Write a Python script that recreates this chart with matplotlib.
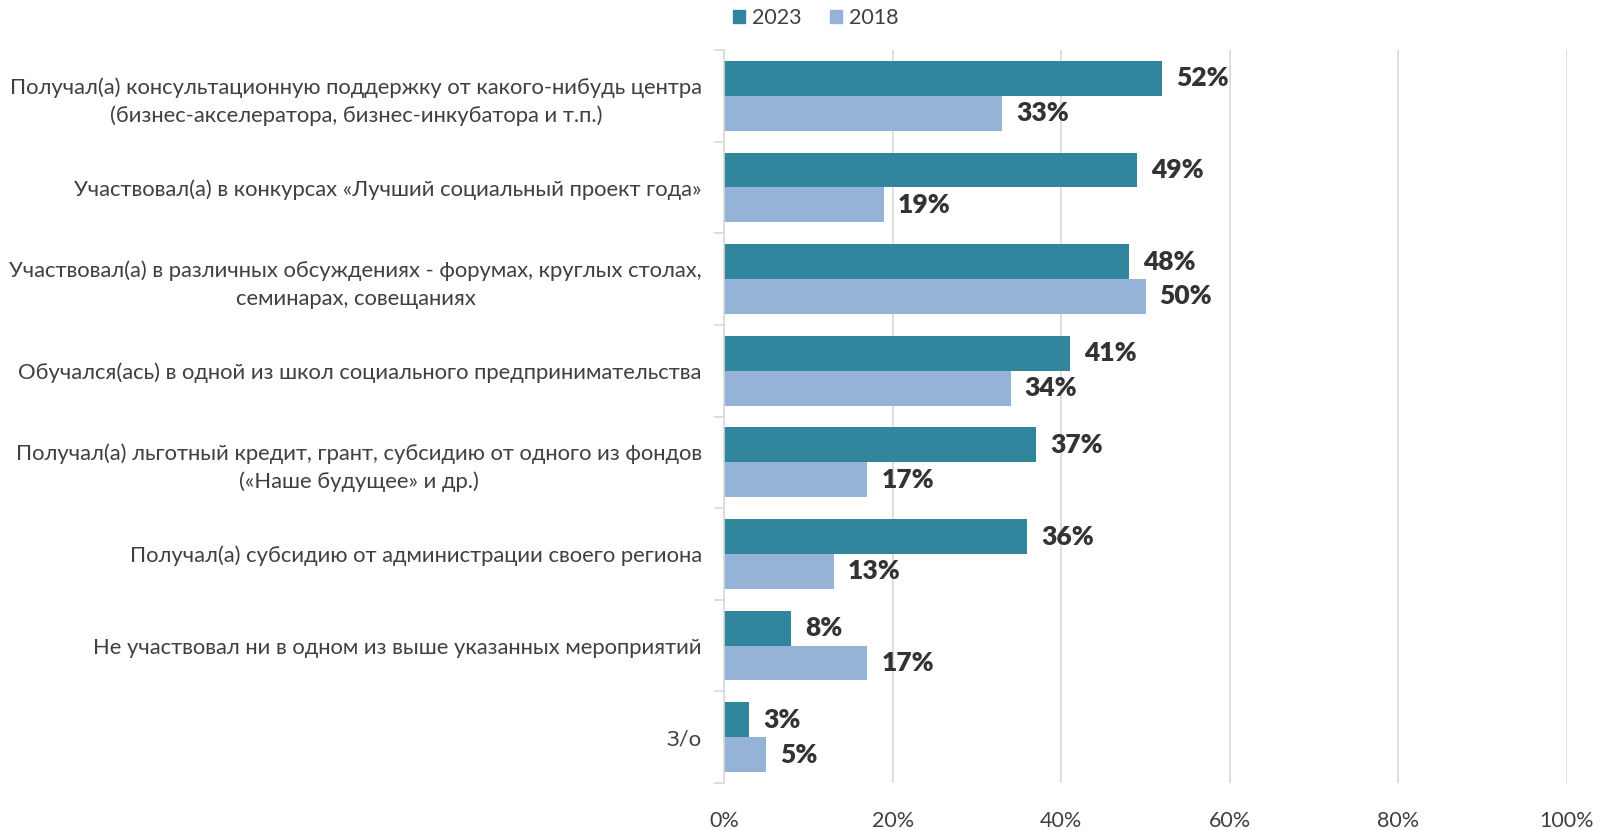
import matplotlib
matplotlib.use("Agg")
import matplotlib.pyplot as plt
from matplotlib.patches import Patch

plt.rcParams['font.family'] = ['Lato', 'DejaVu Sans']

categories = [
    "Получал(а) консультационную поддержку от какого-нибудь центра\n(бизнес-акселератора, бизнес-инкубатора и т.п.)",
    "Участвовал(а) в конкурсах «Лучший социальный проект года»",
    "Участвовал(а) в различных обсуждениях - форумах, круглых столах,\nсеминарах, совещаниях",
    "Обучался(ась) в одной из школ социального предпринимательства",
    "Получал(а) льготный кредит, грант, субсидию от одного из фондов\n(«Наше будущее» и др.)",
    "Получал(а) субсидию от администрации своего региона",
    "Не участвовал ни в одном из выше указанных мероприятий",
    "З/о",
]
values_2023 = [52, 49, 48, 41, 37, 36, 8, 3]
values_2018 = [33, 19, 50, 34, 17, 13, 17, 5]
series_names = ["2023", "2018"]
x_ticks = [0, 20, 40, 60, 80, 100]

color_2023 = "#31859C"
color_2018 = "#95B3D7"
text_color = "#404040"
grid_color = "#D9D9D9"

fig = plt.figure(figsize=(16.02, 8.30), dpi=100)
ax = fig.add_axes([724 / 1602, 1 - 783 / 830, (1567 - 724) / 1602, (783 - 50) / 830])

n = len(categories)
ypos = list(range(n))
bh = 0.38
y23 = [y - bh / 2 for y in ypos]
y18 = [y + bh / 2 for y in ypos]

b1 = ax.barh(y23, values_2023, height=bh, color=color_2023, zorder=3)
b2 = ax.barh(y18, values_2018, height=bh, color=color_2018, zorder=3)

for bars, vals in ((b1, values_2023), (b2, values_2018)):
    for rect, v in zip(bars, vals):
        ax.annotate(f"{v}%", (v, rect.get_y() + rect.get_height() / 2),
                    xytext=(14, 0), textcoords="offset pixels",
                    va="center", ha="left", fontsize=19, fontweight="heavy",
                    color="#333333", zorder=4)

ax.set_xlim(0, 100)
ax.set_ylim(n - 0.5, -0.5)
ax.set_xticks(x_ticks)
ax.set_xticklabels([f"{t}%" for t in x_ticks], fontsize=15.5, color=text_color)
ax.tick_params(axis="x", length=0, pad=20)

ax.set_yticks(ypos)
ax.set_yticklabels(categories, fontsize=15.8, color=text_color,
                   multialignment="center", linespacing=1.45)
ax.tick_params(axis="y", length=0, pad=16)
# small boundary ticks between categories
ax.set_yticks([i - 0.5 for i in range(n + 1)], minor=True)
ax.tick_params(axis="y", which="minor", length=7, color=grid_color, width=1.2)

ax.grid(axis="x", color=grid_color, linewidth=1.2, zorder=0)
for s in ("top", "right", "bottom"):
    ax.spines[s].set_visible(False)
ax.spines["left"].set_color(grid_color)
ax.spines["left"].set_linewidth(1.2)
ax.spines["left"].set_zorder(5)

handles = [Patch(color=color_2023), Patch(color=color_2018)]
fig.legend(handles, series_names, loc="center", bbox_to_anchor=(816 / 1602, 1 - 18 / 830),
           ncol=2, frameon=False, fontsize=15.5, handlelength=0.55, handleheight=0.55,
           handletextpad=0.35, columnspacing=1.3, labelcolor=text_color)

fig.savefig("out.png", dpi=100, facecolor="white")
